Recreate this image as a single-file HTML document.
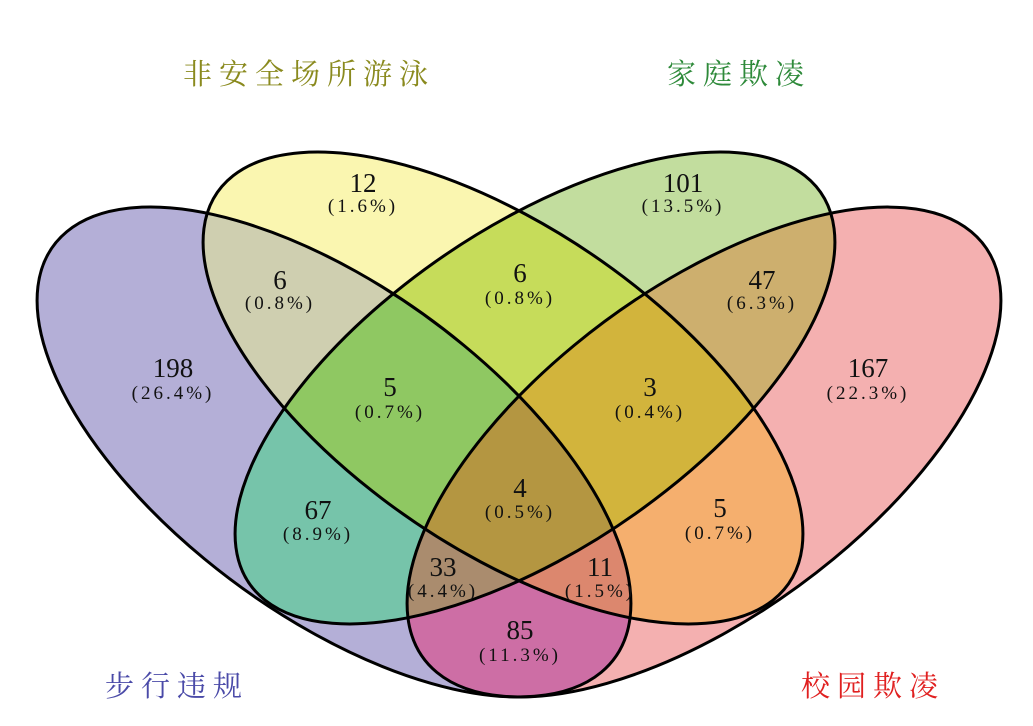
<!DOCTYPE html>
<html><head><meta charset="utf-8"><style>
html,body{margin:0;padding:0;background:#fff;overflow:hidden;width:1033px;height:726px;}
svg{display:block;position:absolute;left:0;top:0;}
.n{font-family:"Liberation Serif","Noto Serif CJK SC",serif;font-size:27px;fill:#111;text-anchor:middle;}
.p{font-family:"Liberation Serif","Noto Serif CJK SC",serif;font-size:19px;fill:#111;text-anchor:middle;letter-spacing:3px;}
.t{font-family:"Liberation Serif","Noto Serif CJK SC",serif;font-size:29px;text-anchor:middle;letter-spacing:7px;}
</style></head><body>
<svg width="1033" height="726" viewBox="0 0 1033 726" xmlns="http://www.w3.org/2000/svg">
<defs>
 <ellipse id="eP" transform="translate(334,452) scale(297,245) rotate(45)" rx="1.272" ry="0.617"/>
 <ellipse id="eY" transform="translate(503,388) scale(300,236) rotate(45)" rx="1.272" ry="0.617"/>
 <ellipse id="eG" transform="translate(535,388) scale(300,236) rotate(-45)" rx="1.272" ry="0.617"/>
 <ellipse id="eR" transform="translate(704,452) scale(297,245) rotate(-45)" rx="1.272" ry="0.617"/>
 <clipPath id="cP"><use href="#eP"/></clipPath>
 <clipPath id="cY"><use href="#eY"/></clipPath>
 <clipPath id="cG"><use href="#eG"/></clipPath>
 <clipPath id="cR"><use href="#eR"/></clipPath>
</defs>
<use href="#eP" fill="rgb(180,175,215)"/>
<use href="#eY" fill="rgb(250,246,176)"/>
<use href="#eG" fill="rgb(194,221,158)"/>
<use href="#eR" fill="rgb(244,176,176)"/>
<g clip-path="url(#cP)"><use href="#eY" fill="rgb(207,207,176)"/></g>
<g clip-path="url(#cY)"><use href="#eG" fill="rgb(198,220,90)"/></g>
<g clip-path="url(#cG)"><use href="#eR" fill="rgb(205,175,110)"/></g>
<g clip-path="url(#cP)"><use href="#eR" fill="rgb(205,110,165)"/></g>
<g clip-path="url(#cP)"><use href="#eG" fill="rgb(118,196,170)"/></g>
<g clip-path="url(#cY)"><use href="#eR" fill="rgb(245,175,110)"/></g>
<g clip-path="url(#cP)"><g clip-path="url(#cY)"><use href="#eG" fill="rgb(143,200,98)"/></g></g>
<g clip-path="url(#cY)"><g clip-path="url(#cG)"><use href="#eR" fill="rgb(210,180,60)"/></g></g>
<g clip-path="url(#cP)"><g clip-path="url(#cG)"><use href="#eR" fill="rgb(170,140,110)"/></g></g>
<g clip-path="url(#cP)"><g clip-path="url(#cY)"><use href="#eR" fill="rgb(220,135,110)"/></g></g>
<g clip-path="url(#cP)"><g clip-path="url(#cY)"><g clip-path="url(#cG)"><use href="#eR" fill="rgb(180,150,65)"/></g></g></g>
<g fill="none" stroke="#000" stroke-width="3">
 <g transform="translate(334,452) scale(297,245) rotate(45)"><ellipse rx="1.272" ry="0.617" vector-effect="non-scaling-stroke"/></g>
 <g transform="translate(503,388) scale(300,236) rotate(45)"><ellipse rx="1.272" ry="0.617" vector-effect="non-scaling-stroke"/></g>
 <g transform="translate(535,388) scale(300,236) rotate(-45)"><ellipse rx="1.272" ry="0.617" vector-effect="non-scaling-stroke"/></g>
 <g transform="translate(704,452) scale(297,245) rotate(-45)"><ellipse rx="1.272" ry="0.617" vector-effect="non-scaling-stroke"/></g>
</g>
<text class="t" x="309" y="84" fill="#8a8a1e">非安全场所游泳</text>
<text class="t" x="739" y="84" fill="#2e8a3a">家庭欺凌</text>
<text class="t" x="177" y="696" fill="#4a4aa8">步行违规</text>
<text class="t" x="873" y="696" fill="#e02020">校园欺凌</text>

<text class="n" x="363" y="192">12</text><text class="p" x="363" y="212">(1.6%)</text>
<text class="n" x="683" y="192">101</text><text class="p" x="683" y="212">(13.5%)</text>
<text class="n" x="280" y="289">6</text><text class="p" x="280" y="309">(0.8%)</text>
<text class="n" x="520" y="282">6</text><text class="p" x="520" y="304">(0.8%)</text>
<text class="n" x="762" y="289">47</text><text class="p" x="762" y="309">(6.3%)</text>
<text class="n" x="173" y="377">198</text><text class="p" x="173" y="399">(26.4%)</text>
<text class="n" x="390" y="396">5</text><text class="p" x="390" y="418">(0.7%)</text>
<text class="n" x="650" y="396">3</text><text class="p" x="650" y="418">(0.4%)</text>
<text class="n" x="868" y="377">167</text><text class="p" x="868" y="399">(22.3%)</text>
<text class="n" x="520" y="497">4</text><text class="p" x="520" y="518">(0.5%)</text>
<text class="n" x="318" y="519">67</text><text class="p" x="318" y="540">(8.9%)</text>
<text class="n" x="720" y="517">5</text><text class="p" x="720" y="539">(0.7%)</text>
<text class="n" x="443" y="576">33</text><text class="p" x="443" y="597">(4.4%)</text>
<text class="n" x="600" y="576">11</text><text class="p" x="600" y="597">(1.5%)</text>
<text class="n" x="520" y="639">85</text><text class="p" x="520" y="661">(11.3%)</text>
</svg>
</body></html>
